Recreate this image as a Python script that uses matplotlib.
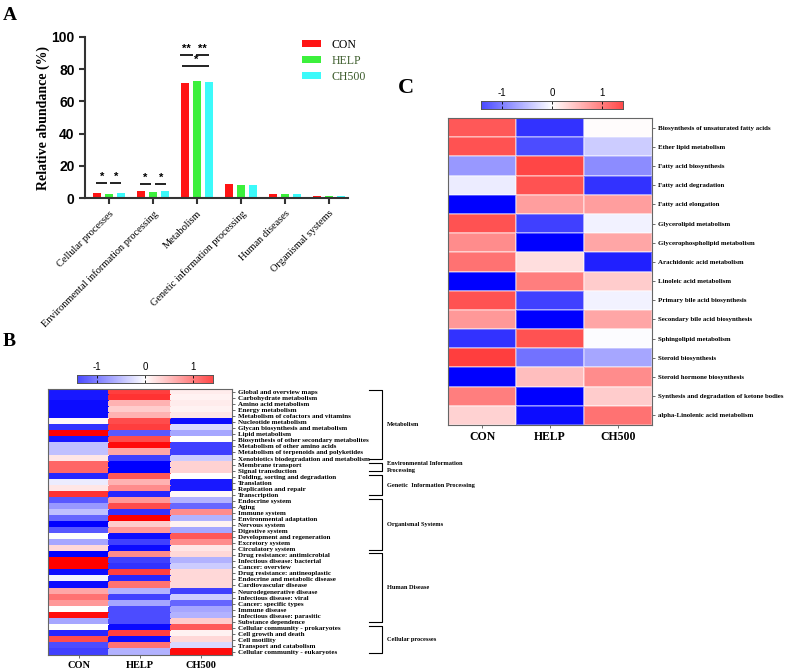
import numpy as np
import matplotlib
matplotlib.use('Agg')
import matplotlib.pyplot as plt
from matplotlib.colors import LinearSegmentedColormap, Normalize

# ---- panel A data
categories = ['Cellular processes', 'Environmental information processing', 'Metabolism',
              'Genetic information processing', 'Human diseases', 'Organismal systems']
groups = ['CON', 'HELP', 'CH500']
con = [3.5, 4.5, 71.6, 9.0, 2.9, 1.4]
help_ = [2.9, 3.9, 72.5, 8.2, 2.7, 1.3]
ch500 = [3.3, 4.5, 71.8, 8.2, 2.7, 1.2]
bar_colors = ['#ff1414', '#3cf03c', '#3cfafa']

# ---- panel B data (z-scores)
b_rows = ['Global and overview maps', 'Carbohydrate metabolism', 'Amino acid metabolism',
          'Energy metabolism', 'Metabolism of cofactors and vitamins', 'Nucleotide metabolism',
          'Glycan biosynthesis and metabolism', 'Lipid metabolism',
          'Biosynthesis of other secondary metabolites', 'Metabolism of other amino acids',
          'Metabolism of terpenoids and polyketides', 'Xenobiotics biodegradation and metabolism',
          'Membrane transport', 'Signal transduction', 'Folding, sorting and degradation',
          'Translation', 'Replication and repair', 'Transcription', 'Endocrine system', 'Aging',
          'Immune system', 'Environmental adaptation', 'Nervous system', 'Digestive system',
          'Development and regeneration', 'Excretory system', 'Circulatory system',
          'Drug resistance: antimicrobial', 'Infectious disease: bacterial', 'Cancer: overview',
          'Drug resistance: antineoplastic', 'Endocrine and metabolic disease',
          'Cardiovascular disease', 'Neurodegenerative disease', 'Infectious disease: viral',
          'Cancer: specific types', 'Immune disease', 'Infectious disease: parasitic',
          'Substance dependence', 'Cellular community - prokaryotes', 'Cell growth and death',
          'Cell motility', 'Transport and catabolism', 'Cellular community - eukaryotes']
b_con = [-1.8, -1.8, -1.9, -1.9, -1.9, 0.05, -1.6, 2.0, -1.8, -0.5, -0.5, 0.2, 1.2, 1.2,
         -1.7, -0.15, 0.2, 1.6, -1.3, -0.8, -0.5, -1.2, -2.0, -1.3, 0.0, -0.7, 0.3,
         -2.0, 2.0, 2.0, -1.9, -0.1, -1.9, 0.7, 1.1, 0.8, 0.0, 1.9, -0.7,
         0.0, -1.7, 1.4, -1.4, -1.5]
b_help = [1.5, 1.6, 0.6, 0.4, 0.6, 1.4, 1.5, -1.3, 1.4, 1.9, 0.7, -1.5, -2.0, -2.0,
          1.3, 0.6, 0.9, -1.7, 0.8, 1.4, -1.6, 2.0, 0.4, 0.8, -1.9, -1.5, -1.9,
          0.9, -1.5, -1.6, 1.5, -1.7, 1.1, -0.6, -1.5, -0.7, -1.4, -1.4, -1.4,
          -1.9, 1.5, -1.9, 1.1, -0.6]
b_ch500 = [0.15, 0.1, 0.15, 0.1, 0.2, -1.9, -0.3, -0.7, 0.0, -1.5, -1.5, -0.4, 0.35, 0.35,
           0.0, -1.8, -1.8, 0.05, -0.6, -1.2, 0.9, -0.6, 0.1, -0.7, 1.3, 0.9, 0.2,
           0.3, -0.6, -0.4, 0.3, 0.3, 0.3, -1.5, -0.4, -1.2, -0.7, -0.6, 0.4,
           1.3, 0.1, 0.3, -0.3, 1.9]
b_groups = [('Metabolism', 0, 11), ('Environmental Information\nProcessing', 12, 13),
            ('Genetic  Information Processing', 14, 17), ('Organismal Systems', 18, 26),
            ('Human Disease', 27, 38), ('Cellular processes', 39, 43)]

# ---- panel C data (z-scores)
c_rows = ['Biosynthesis of unsaturated fatty acids', 'Ether lipid metabolism',
          'Fatty acid biosynthesis', 'Fatty acid degradation', 'Fatty acid elongation',
          'Glycerolipid metabolism', 'Glycerophospholipid metabolism',
          'Arachidonic acid metabolism', 'Linoleic acid metabolism',
          'Primary bile acid biosynthesis', 'Secondary bile acid biosynthesis',
          'Sphingolipid metabolism', 'Steroid biosynthesis', 'Steroid hormone biosynthesis',
          'Synthesis and degradation of ketone bodies', 'alpha-Linolenic acid metabolism']
c_con = [1.3, 1.35, -0.8, -0.15, -2.0, 1.35, 0.9, 1.1, -2.0, 1.35, 0.8, -1.6, 1.5, -2.0, 1.0, 0.35]
c_help = [-1.6, -1.4, 1.45, 1.35, 0.75, -1.5, -2.0, 0.25, 1.0, -1.5, -2.0, 1.35, -1.1, 0.5, -2.0, -1.9]
c_ch500 = [0.02, -0.4, -0.9, -1.6, 0.75, -0.1, 0.7, -1.75, 0.4, -0.1, 0.7, -0.03, -0.7, 0.9, 0.4, 1.1]

W, H = 789, 671
fig = plt.figure(figsize=(W / 100, H / 100), dpi=100)
serif = ['Liberation Serif', 'DejaVu Serif']
sans = ['Liberation Sans', 'DejaVu Sans']


def px_axes(x0, y0, x1, y1):
    return fig.add_axes([x0 / W, 1 - y1 / H, (x1 - x0) / W, (y1 - y0) / H])


cmap = LinearSegmentedColormap.from_list('bwr2', ['#0000ff', '#ffffff', '#ff0000'])
norm = Normalize(-2, 2)

# ================= panel A
ax = px_axes(85, 36.7, 348, 198.3)
x = np.arange(len(categories))
off, bw = 0.273, 0.18
for i, (vals, c, g) in enumerate(zip([con, help_, ch500], bar_colors, groups)):
    ax.bar(x + (i - 1) * off, vals, bw, color=c, label=g)
ax.set_xlim(-0.545, 5.43)
ax.set_ylim(0, 100)
ax.set_yticks([0, 20, 40, 60, 80, 100])
for s in ['top', 'right']:
    ax.spines[s].set_visible(False)
for s in ['left', 'bottom']:
    ax.spines[s].set_linewidth(1.5)
    ax.spines[s].set_color('#333333')
ax.tick_params(width=1.5, length=4, color='#333333')
ax.set_yticklabels([str(v) for v in [0, 20, 40, 60, 80, 100]], fontsize=10,
                   fontweight='bold', family=sans)
ax.set_xticks(x)
ax.set_xticklabels(categories, rotation=45, ha='right', rotation_mode='anchor',
                   fontsize=7.5, family=serif)
ax.set_ylabel('Relative abundance (%)', fontsize=10, fontweight='bold', family=serif,
              labelpad=1)


def sig(x0, x1, y, txt):
    ax.plot([x0, x1], [y, y], color='#222222', lw=1.4, solid_capstyle='butt')
    ax.text((x0 + x1) / 2, y + 0.8, txt, ha='center', va='bottom', fontsize=8,
            fontweight='bold', family=sans)


sig(-0.29, -0.04, 9.4, '*')
sig(0.03, 0.28, 9.4, '*')
sig(1 - 0.3, 1 - 0.05, 9.0, '*')
sig(1 + 0.05, 1 + 0.3, 9.0, '*')
sig(2 - 0.38, 2 - 0.1, 88.8, '**')
sig(2 - 0.03, 2 + 0.27, 88.8, '**')
sig(2 - 0.33, 2 + 0.28, 81.6, '*')

leg = fig.legend(loc='upper left', bbox_to_anchor=(291 / W, 1 - 28 / H), frameon=False,
                 prop={'family': serif, 'size': 8.5}, handlelength=1.6, handleheight=0.5,
                 labelspacing=0.35, handletextpad=0.9)
for t, c in zip(leg.get_texts(), ['black', '#3b5b2a', '#3b5b2a']):
    t.set_color(c)


# ================= heatmaps
def heatmap(rect, rows, cols, fs, colfs, edge):
    hx = px_axes(*rect)
    data = np.array(cols).T
    hx.pcolormesh(data, cmap=cmap, norm=norm, edgecolors=edge, linewidth=0.3)
    hx.set_xlim(0, 3)
    hx.set_ylim(len(rows), 0)
    hx.yaxis.tick_right()
    hx.set_yticks(np.arange(len(rows)) + 0.5)
    hx.set_yticklabels(rows, fontsize=fs, fontweight='bold', family=serif)
    hx.set_xticks([0.5, 1.5, 2.5])
    hx.set_xticklabels(groups, fontsize=colfs, fontweight='bold', family=serif)
    hx.tick_params(length=2.5, width=0.6, color='#555555', pad=2)
    hx.tick_params(axis='x', pad=1.5)
    for s in hx.spines.values():
        s.set_color('#666666')
        s.set_linewidth(0.8)
    return hx


def cbar(rect):
    cx = px_axes(*rect)
    grad = np.linspace(-1.42, 1.42, 256)[None, :]
    cx.imshow(grad, cmap=cmap, norm=norm, aspect='auto', extent=[-1.42, 1.42, 0, 1])
    cx.set_yticks([])
    cx.xaxis.tick_top()
    cx.set_xticks([-1, 0, 1])
    cx.set_xticklabels(['-1', '0', '1'], fontsize=7, family=sans)
    cx.tick_params(axis='x', direction='in', length=2, width=0.6, pad=2,
                   top=True, bottom=True)
    for s in cx.spines.values():
        s.set_color('#555555')
        s.set_linewidth(0.7)


hb = heatmap((48, 389, 232, 655), b_rows, [b_con, b_help, b_ch500], 5, 7.5, 'face')
cbar((77, 375, 213, 383))

# brackets for panel B
for name, r0, r1 in b_groups:
    y0, y1 = r0 + 0.2, r1 + 0.6
    xv, xl = 5.45, 5.24
    hb.plot([xl, xv, xv, xl], [y0, y0, y1, y1], color='black', lw=0.8, clip_on=False)
    hb.text(5.52, (y0 + y1) / 2, name, fontsize=4.6, fontweight='bold', family=serif,
            va='center', ha='left', linespacing=1.6)

hc = heatmap((448, 118, 652, 425), c_rows, [c_con, c_help, c_ch500], 4.95, 8.5, (1, 1, 1, 0.35))
cbar((481, 101, 623, 109))

# panel letters
fig.text(3 / W, 1 - 20 / H, 'A', fontsize=14, fontweight='bold', family=serif)
fig.text(3 / W, 1 - 346 / H, 'B', fontsize=14, fontweight='bold', family=serif)
fig.text(398 / W, 1 - 93 / H, 'C', fontsize=16, fontweight='bold', family=serif)

fig.savefig('out.png', dpi=100)
